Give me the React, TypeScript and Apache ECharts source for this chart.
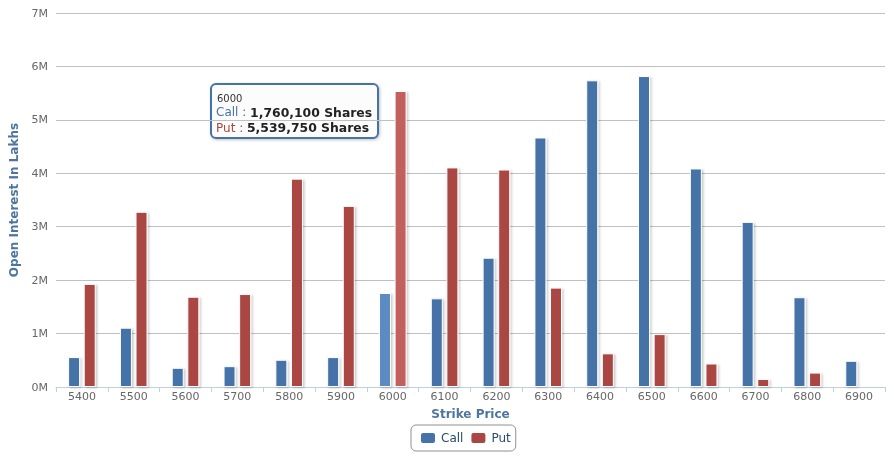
import React, { useEffect, useRef } from "react";
import * as echarts from "echarts";

const categories = ["5400", "5500", "5600", "5700", "5800", "5900", "6000", "6100", "6200", "6300", "6400", "6500", "6600", "6700", "6800", "6900"];
const callValues = [560000, 1110000, 360000, 390000, 510000, 560000, 1760100, 1660000, 2420000, 4670000, 5740000, 5820000, 4090000, 3090000, 1680000, 490000];
const putValues = [1930000, 3280000, 1690000, 1740000, 3900000, 3390000, 5539750, 4110000, 4070000, 1860000, 630000, 990000, 440000, 150000, 270000, 0];
const yTicks = [0, 1000000, 2000000, 3000000, 4000000, 5000000, 6000000, 7000000];
const hoverCategory = "6000";

const CALL = "#4572A7";
const PUT = "#AA4643";
const CALL_HI = "#5b8ac2";
const PUT_HI = "#c35e5b";
const FONT = "DejaVu Sans";

function fmt(n: number) {
  return n.toString().replace(/\B(?=(\d{3})+(?!\d))/g, ",");
}

export default function App() {
  const ref = useRef<HTMLDivElement>(null);
  useEffect(() => {
    if (!ref.current) return;
    const chart = echarts.init(ref.current, undefined, { renderer: "svg" });
    const hi = categories.indexOf(hoverCategory);
    const mk = (vals: number[], hiColor: string) =>
      vals.map((v, i) => {
        const val: any = v === 0 ? "-" : v;
        return i === hi ? { value: val, itemStyle: { color: hiColor } } : val;
      });
    const barStyle = (c: string) => ({
      color: c,
      borderColor: "#ffffff",
      borderWidth: 1,
      shadowColor: "rgba(0,0,0,0.22)",
      shadowBlur: 2,
      shadowOffsetX: 1.5,
      shadowOffsetY: 1,
    });
    const richVal = { fontFamily: FONT, fontSize: 12.4, fontWeight: "bold", fill: "#222222", color: "#222222" };
    chart.setOption({
      animation: false,
      textStyle: { fontFamily: FONT },
      grid: { left: 51, right: 9, top: 13, bottom: 75, containLabel: false },
      xAxis: {
        type: "category",
        data: categories,
        name: "Strike Price",
        nameLocation: "middle",
        nameGap: 21,
        nameTextStyle: { fontFamily: FONT, fontSize: 12, fontWeight: "bold", color: "#4d759e", verticalAlign: "top" },
        axisLine: { lineStyle: { color: "#C0D0E0", width: 1 } },
        axisTick: { show: true, length: 5, lineStyle: { color: "#C0D0E0" } },
        axisLabel: { color: "#666666", fontSize: 11, fontFamily: FONT, margin: 4 },
      },
      yAxis: {
        type: "value",
        min: yTicks[0],
        max: yTicks[yTicks.length - 1],
        interval: yTicks[1] - yTicks[0],
        name: "Open Interest In Lakhs",
        nameLocation: "middle",
        nameGap: 36,
        nameTextStyle: { fontFamily: FONT, fontSize: 12, fontWeight: "bold", color: "#4d759e" },
        axisLine: { show: false },
        axisTick: { show: false },
        axisLabel: {
          color: "#666666",
          fontSize: 11,
          fontFamily: FONT,
          margin: 8,
          formatter: (v: number) => v / 1000000 + "M",
        },
        splitLine: { lineStyle: { color: "#C0C0C0", width: 1 } },
      },
      legend: {
        data: ["Call", "Put"],
        left: 411,
        top: 425,
        orient: "horizontal",
        icon: "roundRect",
        itemWidth: 16,
        itemHeight: 12,
        itemGap: 6,
        padding: [6, 5, 6, 8],
        borderColor: "#909090",
        borderWidth: 1,
        borderRadius: 5,
        textStyle: { fontFamily: FONT, fontSize: 12, color: "#274b6d" },
      },
      series: [
        {
          name: "Call",
          type: "bar",
          data: mk(callValues, CALL_HI),
          barWidth: 12,
          barGap: "30%",
          itemStyle: barStyle(CALL),
        },
        {
          name: "Put",
          type: "bar",
          data: mk(putValues, PUT_HI),
          barWidth: 12,
          barGap: "30%",
          itemStyle: barStyle(PUT),
        },
      ],
      graphic: [
        {
          type: "group",
          left: 210,
          top: 83,
          children: [
            {
              type: "rect",
              shape: { x: 0, y: 0, width: 167, height: 54, r: 5 },
              style: {
                fill: "rgba(255,255,255,0.88)",
                stroke: CALL,
                lineWidth: 2,
                shadowColor: "rgba(0,0,0,0.25)",
                shadowBlur: 3,
                shadowOffsetX: 1,
                shadowOffsetY: 1,
              },
            },
            {
              type: "text",
              x: 6,
              y: 14,
              style: { text: hoverCategory, fontFamily: FONT, fontSize: 10, fill: "#333333", verticalAlign: "middle" },
            },
            {
              type: "text",
              x: 5,
              y: 28,
              style: {
                text: "{l|Call : }{v|" + fmt(callValues[hi]) + " Shares}",
                verticalAlign: "middle",
                rich: {
                  l: { fontFamily: FONT, fontSize: 12, fill: CALL, color: CALL },
                  v: richVal,
                },
              },
            },
            {
              type: "text",
              x: 5,
              y: 43.5,
              style: {
                text: "{l|Put : }{v|" + fmt(putValues[hi]) + " Shares}",
                verticalAlign: "middle",
                rich: {
                  l: { fontFamily: FONT, fontSize: 12, fill: PUT, color: PUT },
                  v: richVal,
                },
              },
            },
          ],
        },
      ],
    });
    return () => chart.dispose();
  }, []);
  return <div ref={ref} style={{ position: "fixed", left: 0, top: 0, width: 894, height: 462 }} />;
}
